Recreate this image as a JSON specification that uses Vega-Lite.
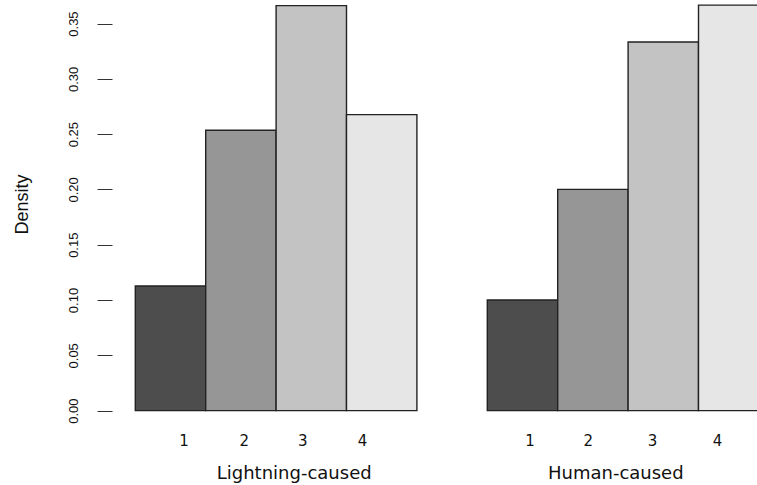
{
  "$schema": "https://vega.github.io/schema/vega-lite/v6.json",
  "width": 645,
  "height": 485,
  "autosize": {"type": "none"},
  "padding": {"left": 112, "top": 0, "right": 0, "bottom": 0},
  "background": "white",
  "config": {"view": {"stroke": null}},
  "datasets": {
    "bars": [
      {"group": "Lightning-caused", "slot": "L1", "cat": "1", "density": 0.1127},
      {"group": "Lightning-caused", "slot": "L2", "cat": "2", "density": 0.2535},
      {"group": "Lightning-caused", "slot": "L3", "cat": "3", "density": 0.3662},
      {"group": "Lightning-caused", "slot": "L4", "cat": "4", "density": 0.2676},
      {"group": "Human-caused", "slot": "H1", "cat": "1", "density": 0.1},
      {"group": "Human-caused", "slot": "H2", "cat": "2", "density": 0.2},
      {"group": "Human-caused", "slot": "H3", "cat": "3", "density": 0.3333},
      {"group": "Human-caused", "slot": "H4", "cat": "4", "density": 0.3667}
    ],
    "ticks": [
      {"label": "1", "at": 0.692},
      {"label": "2", "at": 1.547},
      {"label": "3", "at": 2.379},
      {"label": "4", "at": 3.227},
      {"label": "1", "at": 5.607},
      {"label": "2", "at": 6.435},
      {"label": "3", "at": 7.347},
      {"label": "4", "at": 8.27}
    ],
    "groups": [
      {"label": "Lightning-caused", "at": 2.257},
      {"label": "Human-caused", "at": 6.825}
    ]
  },
  "resolve": {"scale": {"x": "independent"}},
  "layer": [
    {
      "data": {"name": "bars"},
      "mark": {"type": "bar", "stroke": "#222222", "strokeWidth": 1.4},
      "encoding": {
        "x": {
          "field": "slot",
          "type": "nominal",
          "sort": null,
          "scale": {
            "domain": ["L1", "L2", "L3", "L4", "gap", "H1", "H2", "H3", "H4"],
            "range": [23.3, 656.9],
            "paddingInner": 0,
            "paddingOuter": 0
          },
          "axis": null
        },
        "y": {
          "field": "density",
          "type": "quantitative",
          "scale": {"domain": [-0.0673, 0.3713], "nice": false, "zero": false},
          "axis": {
            "values": [0, 0.05, 0.1, 0.15, 0.2, 0.25, 0.3, 0.35],
            "format": ".2f",
            "domain": false,
            "grid": false,
            "ticks": true,
            "tickSize": 15,
            "tickColor": "#333333",
            "tickWidth": 1,
            "labelAngle": -90,
            "labelAlign": "center",
            "labelBaseline": "bottom",
            "labelPadding": 17,
            "labelFont": "Liberation Sans",
            "labelFontSize": 13,
            "labelColor": "#111111",
            "labelFlush": false,
            "labelOverlap": false,
            "title": "Density",
            "titleFont": "Liberation Sans",
            "titleFontSize": 18,
            "titleFontWeight": "normal",
            "titleColor": "#111111",
            "titlePadding": 36,
            "titleY": 204
          }
        },
        "y2": {"datum": 0},
        "fill": {
          "field": "cat",
          "type": "nominal",
          "scale": {"domain": ["1", "2", "3", "4"], "range": ["#4D4D4D", "#969696", "#C3C3C3", "#E6E6E6"]},
          "legend": null
        }
      }
    },
    {
      "mark": {"type": "rule", "color": "#222222", "strokeWidth": 1.2},
      "encoding": {
        "x": {"value": 0},
        "y": {"datum": 0},
        "y2": {"datum": 0.35}
      }
    },
    {
      "data": {"name": "ticks"},
      "mark": {"type": "text", "font": "DejaVu Sans", "fontSize": 15, "align": "center", "baseline": "alphabetic", "color": "#111111"},
      "encoding": {
        "x": {"field": "at", "type": "quantitative", "scale": {"domain": [-0.331, 8.831], "nice": false, "zero": false}, "axis": null},
        "y": {"datum": -0.0317},
        "text": {"field": "label"}
      }
    },
    {
      "data": {"name": "groups"},
      "mark": {"type": "text", "font": "DejaVu Sans", "fontSize": 18, "align": "center", "baseline": "alphabetic", "color": "#111111"},
      "encoding": {
        "x": {"field": "at", "type": "quantitative", "scale": {"domain": [-0.331, 8.831], "nice": false, "zero": false}, "axis": null},
        "y": {"datum": -0.0621},
        "text": {"field": "label"}
      }
    }
  ]
}
